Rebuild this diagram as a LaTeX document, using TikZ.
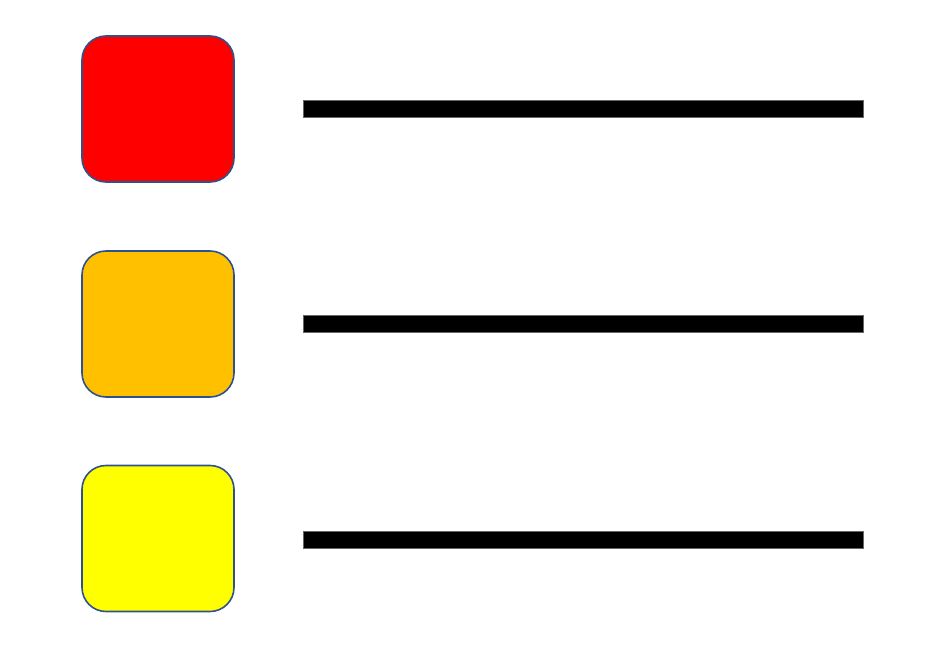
\documentclass[tikz,border=0pt]{standalone}
\definecolor{boxline}{HTML}{2F528F}
\definecolor{cred}{HTML}{FF0000}
\definecolor{corange}{HTML}{FFC000}
\definecolor{cyellow}{HTML}{FFFF00}
\tikzset{
  sq/.style={draw=boxline, line width=1.6pt, rounded corners=24pt, minimum width=152pt, minimum height=146pt, inner sep=0pt, anchor=center},
  bar/.style={fill=black, draw=black!60, line width=0.5pt, minimum width=560pt, minimum height=17pt, inner sep=0pt, anchor=center}
}
\begin{document}
\begin{tikzpicture}[x=1pt,y=1pt]
\useasboundingbox (0,0) rectangle (948,654);
\node[sq, fill=cred] (s1) at (158,654-109) {};
\node[sq, fill=corange] (s2) at (158,654-324) {};
\node[sq, fill=cyellow] (s3) at (158,654-538.5) {};
\node[bar] (b1) at (583,654-108.5) {};
\node[bar] (b2) at (583,654-323.5) {};
\node[bar] (b3) at (583,654-539.5) {};
\end{tikzpicture}
\end{document}
